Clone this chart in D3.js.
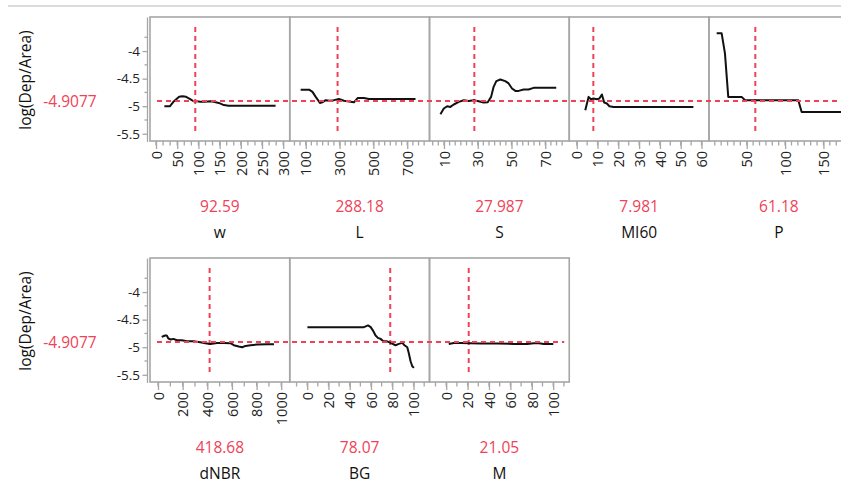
<!DOCTYPE html>
<html>
<head>
<meta charset="utf-8">
<script src="https://cdn.jsdelivr.net/npm/d3@7"></script>
<style>
  html, body { margin: 0; padding: 0; background: #fff; }
  svg { display: block; font-family: "Open Sans", "Noto Sans", sans-serif; }
</style>
</head>
<body>
<svg id="chart" width="841" height="485"></svg>
<script>
// ---------- data ----------
const factorNames   = ["w", "L", "S", "MI60", "P", "dNBR", "BG", "M"];
const currentValues = ["92.59", "288.18", "27.987", "7.981", "61.18", "418.68", "78.07", "21.05"];
const predictedValue = -4.9077;
const predictedLabel = "-4.9077";
const responseName = "log(Dep/Area)";
const yTickValues = [-4, -4.5, -5, -5.5];
const yTickLabels = ["-4", "-4.5", "-5", "-5.5"];

const wTicks    = [0, 50, 100, 150, 200, 250, 300];
const lTicks    = [100, 300, 500, 700];
const sTicks    = [10, 30, 50, 70];
const mi60Ticks = [0, 10, 20, 30, 40, 50, 60];
const pTicks    = [50, 100, 150];
const dnbrTicks = [0, 200, 400, 600, 800, 1000];
const bgTicks   = [0, 20, 40, 60, 80, 100];
const mTicks    = [0, 20, 40, 60, 80, 100];

const wX = [19.7, 33, 41, 54.5, 62, 71, 80.6, 88.5, 96.5, 104, 116, 128, 136, 148, 160, 171, 282];
const wY = [-5.0, -5.0, -4.92, -4.83, -4.82, -4.83, -4.87, -4.91, -4.91, -4.92, -4.92, -4.91, -4.92, -4.94, -4.98, -4.99, -4.99];

const lX = [70, 120, 140, 159, 184, 198, 218, 243, 267, 296, 326, 355, 385, 408, 444, 473, 503, 749];
const lY = [-4.70, -4.70, -4.74, -4.83, -4.94, -4.93, -4.89, -4.90, -4.89, -4.87, -4.90, -4.915, -4.93, -4.85, -4.85, -4.87, -4.87, -4.87];

const sX = [7.9, 9.9, 11.9, 13.8, 15.8, 18.8, 21.7, 24.7, 27.6, 30.6, 33.5, 35.9, 37.9, 39.4, 41.0, 43.4, 46.3, 48.3, 50.3, 52.3, 54.2, 57.2, 60.1, 63.1, 69.0, 76.5];
const sY = [-5.145, -5.042, -5.0, -5.013, -4.969, -4.922, -4.891, -4.904, -4.891, -4.909, -4.933, -4.927, -4.831, -4.649, -4.545, -4.515, -4.545, -4.587, -4.678, -4.722, -4.722, -4.696, -4.696, -4.667, -4.667, -4.667];

const mi60X = [4.1, 5.7, 6.8, 8.1, 9.7, 10.9, 12.1, 13.2, 14.5, 15.7, 17.7, 56.1];
const mi60Y = [-5.073, -4.831, -4.873, -4.86, -4.873, -4.86, -4.787, -4.933, -4.951, -5.0, -5.013, -5.013];

const pX = [10.8, 17.3, 21.6, 25.9, 32.5, 43.4, 47.7, 117.2, 121.6, 183];
const pY = [-3.678, -3.678, -4.042, -4.831, -4.831, -4.831, -4.891, -4.891, -5.104, -5.104];

const dnbrX = [30, 57, 71, 84, 104, 125, 153, 193, 234, 288, 343, 384, 424, 479, 533, 588, 615, 655, 683, 710, 751, 806, 888, 941];
const dnbrY = [-4.813, -4.787, -4.787, -4.842, -4.86, -4.849, -4.873, -4.873, -4.891, -4.891, -4.909, -4.927, -4.94, -4.922, -4.922, -4.927, -4.964, -4.987, -5.0, -4.976, -4.964, -4.951, -4.945, -4.945];

const bgX = [0.2, 53.4, 57.2, 59.7, 62.2, 64.3, 66.5, 69.0, 71.6, 74.6, 78.4, 83.1, 86.2, 89.4, 91.5, 94.1, 95.5, 97.2, 98.8, 100.3];
const bgY = [-4.636, -4.636, -4.605, -4.636, -4.709, -4.787, -4.831, -4.849, -4.891, -4.891, -4.922, -4.964, -4.94, -4.922, -4.964, -5.0, -5.104, -5.255, -5.345, -5.376];

const mX = [2.4, 7.1, 13.4, 22.7, 32.1, 47.7, 63.2, 75.7, 81.9, 86.6, 91.3, 100.1];
const mY = [-4.94, -4.922, -4.922, -4.927, -4.933, -4.933, -4.94, -4.94, -4.927, -4.927, -4.94, -4.94];

// ---------- panel configuration ----------
const panels = [
  { name: factorNames[0], value: currentValues[0], xs: wX,    ys: wY,    ticks: wTicks,    domain: [-14.2, 315.4], minor: 50 / 3,  row: 0, col: 0 },
  { name: factorNames[1], value: currentValues[1], xs: lX,    ys: lY,    ticks: lTicks,    domain: [5.6, 831.6],   minor: 200 / 6, row: 0, col: 1 },
  { name: factorNames[2], value: currentValues[2], xs: sX,    ys: sY,    ticks: sTicks,    domain: [1.43, 84.2],   minor: 20 / 6,  row: 0, col: 2 },
  { name: factorNames[3], value: currentValues[3], xs: mi60X, ys: mi60Y, ticks: mi60Ticks, domain: [-3.6, 63.6],   minor: 5,       row: 0, col: 3 },
  { name: factorNames[4], value: currentValues[4], xs: pX,    ys: pY,    ticks: pTicks,    domain: [0.8, 183],     minor: 50 / 6,  row: 0, col: 4 },
  { name: factorNames[5], value: currentValues[5], xs: dnbrX, ys: dnbrY, ticks: dnbrTicks, domain: [-65, 1069],    minor: 100,     row: 1, col: 0 },
  { name: factorNames[6], value: currentValues[6], xs: bgX,   ys: bgY,   ticks: bgTicks,   domain: [-16.4, 115],   minor: 10,      row: 1, col: 1 },
  { name: factorNames[7], value: currentValues[7], xs: mX,    ys: mY,    ticks: mTicks,    domain: [-15.6, 115],   minor: 10,      row: 1, col: 2 }
];

// ---------- layout ----------
const RED = "#ef4257";
const GRAY = "#a6a6a6";
const panelLeft0 = 150, panelW = 139.75, panelH = 124;
const rowTop = [17, 258];
const yDomain = [-5.631, -3.382];

const svg = d3.select("#chart");

// top separator line
svg.append("line").attr("x1", 8).attr("x2", 841).attr("y1", 6).attr("y2", 6)
  .attr("stroke", "#cfcfcf").attr("stroke-width", 1.5);

rowTop.forEach((top, r) => {
  const bottom = top + panelH;
  const y = d3.scaleLinear().domain(yDomain).range([bottom, top]);
  const g = svg.append("g");
  const rowPanels = panels.filter(p => p.row === r);
  const rowRight = panelLeft0 + rowPanels.length * panelW;

  // response label
  g.append("text")
    .attr("transform", `translate(31, ${top + 63}) rotate(-90)`)
    .attr("text-anchor", "middle")
    .attr("font-size", 15.5).attr("fill", "#111")
    .text(responseName);
  g.append("text")
    .attr("x", 70).attr("y", y(predictedValue) + 5.5)
    .attr("text-anchor", "middle")
    .attr("font-size", 15.5).attr("fill", RED)
    .text(predictedLabel);

  // y axis
  const yAxisX = 147.5;
  const yAxis = d3.axisLeft(y).tickValues(yTickValues).tickFormat((d, i) => yTickLabels[i]).tickSize(5).tickPadding(2.5);
  const ya = g.append("g").attr("transform", `translate(${yAxisX},0)`).call(yAxis);
  ya.select(".domain").attr("stroke", GRAY).attr("stroke-width", 1.3).attr("d", `M0,${top + 0.5}V${bottom + 1}`);
  ya.selectAll(".tick line").attr("stroke", GRAY).attr("stroke-width", 1.3);
  ya.selectAll(".tick text").attr("font-size", 13.5).attr("fill", "#222").attr("font-family", "Open Sans, sans-serif");
  const yMinor = [-3.75, -4.25, -4.75, -5.25];
  g.selectAll(null).data(yMinor).enter().append("line")
    .attr("x1", yAxisX - 3).attr("x2", yAxisX)
    .attr("y1", d => y(d)).attr("y2", d => y(d))
    .attr("stroke", GRAY).attr("stroke-width", 1.3);

  rowPanels.forEach(p => {
    const left = panelLeft0 + p.col * panelW;
    const right = left + panelW;
    const x = d3.scaleLinear().domain(p.domain).range([left, right]);

    // x axis minor ticks
    const minorTicks = d3.range(Math.ceil(p.domain[0] / p.minor) * p.minor, p.domain[1], p.minor)
      .filter(v => x(v) > left + 1.5 && x(v) < right - 1.5);
    g.selectAll(null).data(minorTicks).enter().append("line")
      .attr("x1", d => x(d)).attr("x2", d => x(d))
      .attr("y1", bottom).attr("y2", bottom + 4.5)
      .attr("stroke", GRAY).attr("stroke-width", 1.3);

    // x axis major ticks + labels
    const xAxis = d3.axisBottom(x).tickValues(p.ticks).tickSize(8).tickFormat(d3.format("d"));
    const xa = g.append("g").attr("transform", `translate(0,${bottom})`).call(xAxis);
    xa.select(".domain").remove();
    xa.selectAll(".tick line").attr("stroke", GRAY).attr("stroke-width", 1.3);
    xa.selectAll(".tick text")
      .attr("font-size", 14.5).attr("fill", "#222").attr("font-family", "Open Sans, sans-serif")
      .attr("text-anchor", "end").attr("dy", "0.36em")
      .attr("transform", "translate(0,10) rotate(-90)")
      .attr("x", 0).attr("y", 0);

    // vertical dashed reference line at current value
    const cx = x(+p.value);
    g.append("line")
      .attr("x1", cx).attr("x2", cx).attr("y1", top + 10).attr("y2", bottom - 7)
      .attr("stroke", RED).attr("stroke-width", 2).attr("stroke-dasharray", "5,4");

    // profile curve
    const pts = p.xs.map((v, i) => [v, p.ys[i]]);
    g.append("path")
      .datum(pts)
      .attr("fill", "none").attr("stroke", "#111").attr("stroke-width", 2)
      .attr("stroke-linejoin", "round")
      .attr("d", d3.line().x(d => x(d[0])).y(d => y(d[1])));

    // current value label + factor name
    g.append("text").attr("x", (left + right) / 2).attr("y", top + 194.5)
      .attr("text-anchor", "middle").attr("font-size", 15.5).attr("fill", RED).text(p.value);
    g.append("text").attr("x", (left + right) / 2).attr("y", top + 220.5)
      .attr("text-anchor", "middle").attr("font-size", 15.5).attr("fill", "#111").text(p.name);
  });

  // panel frames
  rowPanels.forEach(p => {
    const left = panelLeft0 + p.col * panelW;
    g.append("rect").attr("x", left).attr("y", top).attr("width", panelW).attr("height", panelH)
      .attr("fill", "none").attr("stroke", GRAY).attr("stroke-width", 1.6);
  });

  // horizontal dashed line at predicted value
  const hy = y(predictedValue);
  g.append("line")
    .attr("x1", 157).attr("x2", r === 0 ? 860 : rowRight - 5)
    .attr("y1", hy).attr("y2", hy)
    .attr("stroke", RED).attr("stroke-width", 2).attr("stroke-dasharray", "5,4");
});
</script>
</body>
</html>
